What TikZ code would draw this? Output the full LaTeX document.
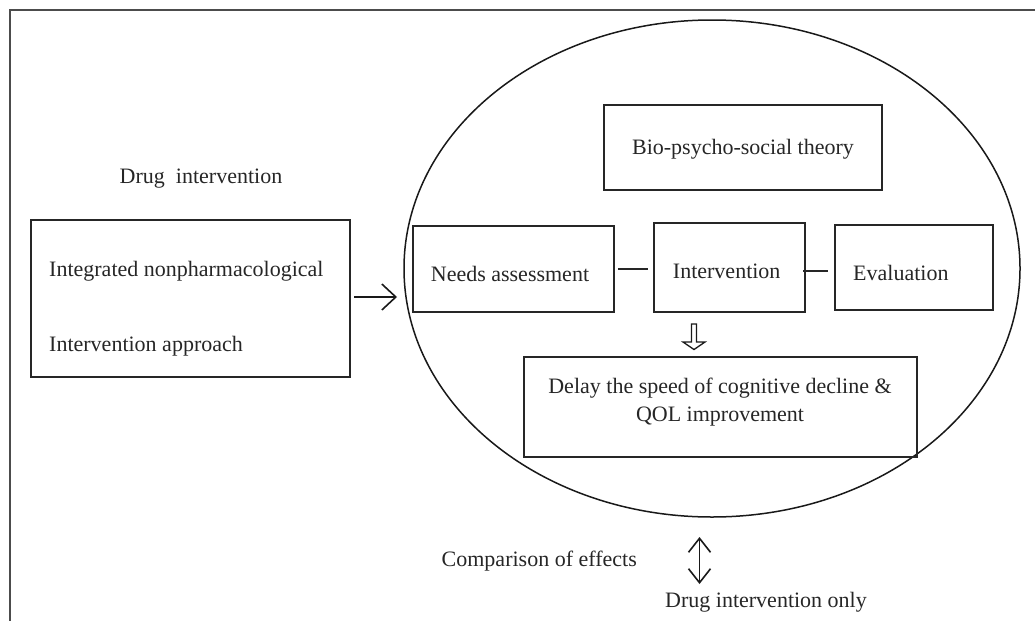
\documentclass[tikz,border=0pt]{standalone}
\usepackage{fontspec}
\setmainfont{Liberation Serif}
\usetikzlibrary{arrows.meta,shapes.geometric}
\begin{document}
\begin{tikzpicture}[x=1pt,y=-1pt,
  box/.style={draw=black!85, line width=1.8pt, inner sep=0pt},
  lbl/.style={font=\fontsize{22}{26}\selectfont, text=black!85, inner sep=0pt},
  barb/.style={-{Straight Barb[length=14pt,width=26pt,line width=1.6pt]}, line width=1.8pt, draw=black!90},
  dbarb/.style={{Straight Barb[length=14pt,width=22pt,line width=1.6pt]}-{Straight Barb[length=14pt,width=22pt,line width=1.6pt]}, line width=1.8pt, draw=black!90},
  conn/.style={line width=1.8pt, draw=black!85}]
\useasboundingbox (0,0) rectangle (1035,621);
% frame
\draw[line width=2pt, black!70] (1035,10) -- (9.5,10) -- (9.5,621);
% ellipse
\node[draw=black!90, line width=1.5pt, ellipse, minimum width=616pt, minimum height=497pt, inner sep=0pt] (ell) at (712,268.5) {};
% boxes
\node[box, minimum width=319pt, minimum height=157pt] (left) at (190.5,298.5) {};
\node[box, minimum width=278pt, minimum height=85pt] (bio) at (743,147.5) {};
\node[box, minimum width=201pt, minimum height=86pt] (needs) at (513.3,268.7) {};
\node[box, minimum width=151pt, minimum height=89pt] (interv) at (729.5,267.4) {};
\node[box, minimum width=158pt, minimum height=85pt] (eval) at (914,267.4) {};
\node[box, minimum width=393pt, minimum height=100pt] (delay) at (720.5,407) {};
% texts
\node[lbl, anchor=base] (tdrug) at (201,183) {Drug\ \ intervention};
\node[lbl, anchor=base west] (tl1) at (49,276) {Integrated nonpharmacological};
\node[lbl, anchor=base west] (tl2) at (49,351.5) {Intervention approach};
\node[lbl, anchor=base] (tbio) at (743,154) {Bio-psycho-social theory};
\node[lbl, anchor=base] (tneeds) at (510,281) {Needs assessment};
\node[lbl, anchor=base] (tint) at (726.7,278.3) {Intervention};
\node[lbl, anchor=base west] (teval) at (853,280) {Evaluation};
\node[lbl, anchor=base] (td1) at (720,393.3) {Delay the speed of cognitive decline \&};
\node[lbl, anchor=base] (td2) at (720,421.7) {QOL improvement};
\node[lbl, anchor=base west] (tcomp) at (441.5,566) {Comparison of effects};
\node[lbl, anchor=base west] (tonly) at (665,607) {Drug intervention only};
% connectors
\coordinate (a1) at (354,297);
\coordinate (a2) at (397,297);
\draw[barb] (a1) -- (a2);
\coordinate (c1) at (618,269);
\coordinate (c2) at (648,269);
\draw[conn] (c1) -- (c2);
\coordinate (c3) at (803,271);
\coordinate (c4) at (828,271);
\draw[conn] (c3) -- (c4);
\coordinate (d1) at (699.5,537);
\coordinate (d2) at (699.5,584);
\draw[dbarb] (d1) -- (d2);
% hollow arrow
\draw[line width=1.3pt, black!90, line join=miter] (691.5,324) -- (696.5,324) -- (696.5,342) -- (705,342) -- (694,349.5) -- (683,342) -- (691.5,342) -- cycle;
\end{tikzpicture}
\end{document}
